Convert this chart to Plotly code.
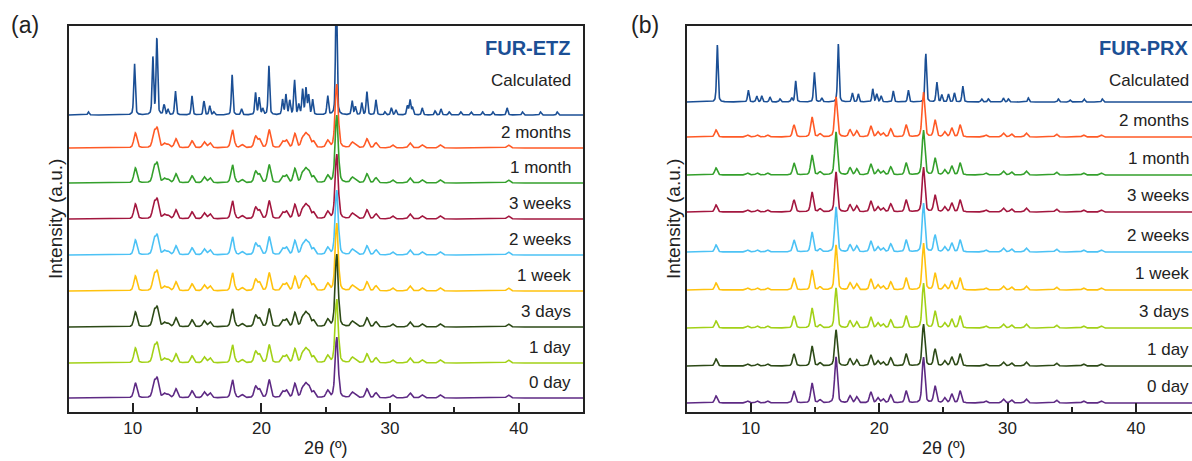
import numpy as np
import plotly.graph_objects as go

# ---------------- data ----------------
LABELS_ETZ = ["Calculated", "2 months", "1 month", "3 weeks", "2 weeks", "1 week", "3 days", "1 day", "0 day"]
LABELS_PRX = ["Calculated", "2 months", "1 month", "3 weeks", "2 weeks", "1 week", "3 days", "1 day", "0 day"]

COLORS_ETZ = ["#1b4f95", "#ff5a26", "#34a02c", "#a3173f", "#4cc2f5", "#ffc20e", "#2d4a17", "#a2d117", "#5e2a84"]
COLORS_PRX = ["#1b4f95", "#ff5a26", "#34a02c", "#a3173f", "#4cc2f5", "#ffc20e", "#a2d117", "#2d4a17", "#5e2a84"]

# vertical offsets of each pattern (a.u.)
OFFSETS_ETZ = [297, 264, 229, 193, 157, 121, 85, 49, 14]
OFFSETS_PRX = [310, 275, 237, 200, 160, 122, 84, 46, 9]

# FUR-ETZ calculated pattern: peak positions (2theta) and intensities
ETZ_CALC_POS = [6.55, 10.13, 11.56, 11.87, 12.43, 12.74, 13.31, 14.6, 15.53, 15.98, 16.3, 17.72, 18.45,
                19.54, 19.82, 20.1, 20.58, 21.64, 21.9, 22.2, 22.57, 22.9, 23.2, 23.46, 23.67, 23.98,
                25.15, 25.82, 27.05, 27.3, 27.8, 28.2, 28.9, 29.6, 30.1, 30.45, 31.35, 31.55, 31.75,
                32.5, 33.5, 33.96, 34.6, 35.5, 36.3, 37.2, 38.0, 39.1, 40.3, 41.7, 43.0]
ETZ_CALC_INT = [3, 52, 57, 76, 10, 5, 24, 19, 14, 9, 3, 40, 6,
                22, 17, 6, 49, 15, 20, 14, 35, 10, 25, 26, 19, 15,
                19, 130, 14, 8, 12, 23, 15, 3, 7, 5, 9, 15, 7,
                7, 4, 6, 3, 3, 3, 3, 3, 7, 3, 3, 3]

# FUR-ETZ experimental patterns (common peaks) + main peak per sample
ETZ_EXP_POS = [10.2, 11.65, 11.9, 12.45, 12.75, 13.35, 14.6, 15.55, 16.0, 17.75, 18.5, 19.55, 19.85,
               20.6, 21.65, 21.95, 22.6, 23.2, 23.45, 23.7, 24.05, 25.15, 27.05, 27.3, 28.2, 28.9,
               30.2, 31.55, 32.5, 33.9, 39.2]
ETZ_EXP_INT = [15, 15, 18, 4, 3, 9, 7, 6, 5, 18, 3, 11, 8,
               18, 6, 7, 14, 9, 12, 10, 6, 7, 5, 3, 9, 5,
               3, 5, 3, 3, 3]
ETZ_MAIN_POS = 25.85
ETZ_MAIN_INT = [64, 68, 65, 65, 68, 73, 64, 61]  # 2 months ... 0 day

# FUR-PRX calculated pattern
PRX_CALC_POS = [7.4, 9.81, 10.47, 10.86, 11.5, 12.28, 13.19, 13.5, 14.95, 15.53, 16.82, 17.91, 18.38,
                19.5, 19.81, 20.15, 21.1, 22.27, 23.63, 24.49, 24.88, 25.39, 25.86, 26.51, 27.99,
                28.5, 29.67, 30.06, 31.62, 33.96, 34.87, 35.96, 37.38]
PRX_CALC_INT = [57, 12, 6, 6, 5, 3, 4, 21, 30, 4, 58, 9, 8,
                13, 8, 6, 11, 12, 49, 20, 7, 8, 9, 16, 3,
                3, 4, 3, 4, 3, 2, 3, 3]

# FUR-PRX experimental patterns
PRX_EXP_POS = [7.3, 9.75, 10.5, 11.3, 13.37, 14.77, 15.4, 17.73, 18.25, 19.35, 19.9, 20.3, 20.9,
               22.1, 24.35, 25.1, 25.65, 26.3, 28.3, 29.67, 30.3, 31.45, 33.8, 35.9, 37.3]
PRX_EXP_INT = [7, 2, 2, 2, 12, 20, 3, 7, 6, 11, 5, 4, 8,
               12, 17, 5, 9, 12, 2, 4, 3, 4, 3, 2, 2]
PRX_MAIN_POS = [16.64, 23.45]
PRX_MAIN_INT = [[40, 45], [43, 45], [40, 45], [45, 49], [45, 47], [40, 45], [36, 42], [46, 46]]

X_TICKS = [10, 20, 30, 40]

# ---------------- helpers ----------------
TWO_THETA = np.arange(5.0, 45.0001, 0.02)


def pattern(pos, inten, hw):
    y = np.zeros_like(TWO_THETA)
    for p, h in zip(pos, inten):
        d = (TWO_THETA - p) / hw
        y += h * (0.4 / (1 + d * d) + 0.6 * np.exp(-np.log(2) * d * d))
    return y


fig = go.Figure()

# left panel
for i, (lab, col, off) in enumerate(zip(LABELS_ETZ, COLORS_ETZ, OFFSETS_ETZ)):
    if i == 0:
        y = pattern(ETZ_CALC_POS, ETZ_CALC_INT, 0.07)
    else:
        y = pattern(ETZ_EXP_POS + [ETZ_MAIN_POS], ETZ_EXP_INT + [ETZ_MAIN_INT[i - 1]], 0.14)
    fig.add_trace(go.Scatter(x=TWO_THETA, y=y + off, mode="lines", line=dict(color=col, width=1.6),
                             xaxis="x", yaxis="y", showlegend=False, name=lab))

# right panel
for i, (lab, col, off) in enumerate(zip(LABELS_PRX, COLORS_PRX, OFFSETS_PRX)):
    if i == 0:
        y = pattern(PRX_CALC_POS, PRX_CALC_INT, 0.07)
    else:
        y = pattern(PRX_EXP_POS + PRX_MAIN_POS, PRX_EXP_INT + PRX_MAIN_INT[i - 1], 0.12)
    fig.add_trace(go.Scatter(x=TWO_THETA, y=y + off, mode="lines", line=dict(color=col, width=1.6),
                             xaxis="x2", yaxis="y2", showlegend=False, name=lab))

W, H = 1192, 461
y_dom = [1 - 412 / H, 1 - 26 / H]
FONT = "Arial, Liberation Sans, sans-serif"

xcommon = dict(tickvals=X_TICKS, ticks="inside", ticklen=9, tickwidth=1.5, tickcolor="#222",
               showline=True, linecolor="#222", linewidth=2, showgrid=False, zeroline=False,
               tickfont=dict(family=FONT, size=17, color="#222"),
               minor=dict(tickvals=[15, 25, 35], ticks="inside", ticklen=5, tickwidth=1.5, tickcolor="#222"))
ycommon = dict(showticklabels=False, ticks="", showline=True, linecolor="#222", linewidth=2,
               showgrid=False, zeroline=False, range=[0, 386], domain=y_dom)

fig.update_layout(
    width=W, height=H, margin=dict(l=0, r=0, t=0, b=0),
    paper_bgcolor="white", plot_bgcolor="white",
    xaxis=dict(domain=[68.5 / W, 583 / W], range=[5, 45], mirror=True, anchor="y", **xcommon),
    yaxis=dict(anchor="x", mirror=True, **ycommon),
    xaxis2=dict(domain=[686.5 / W, 1.0], range=[5, 44.36], mirror=True, anchor="y2", **xcommon),
    yaxis2=dict(anchor="x2", mirror=False, **ycommon),
)

ann = []
# panel letters
ann.append(dict(text="(a)", x=25 / W, y=1 - 25 / H, xref="paper", yref="paper", showarrow=False,
                font=dict(family=FONT, size=23, color="#222"), xanchor="center", yanchor="middle"))
ann.append(dict(text="(b)", x=645 / W, y=1 - 25 / H, xref="paper", yref="paper", showarrow=False,
                font=dict(family=FONT, size=23, color="#222"), xanchor="center", yanchor="middle"))
# axis titles
for xc in [326 / W, 944 / W]:
    ann.append(dict(text="2θ (º)", x=xc, y=1 - 448 / H, xref="paper", yref="paper", showarrow=False,
                    font=dict(family=FONT, size=18, color="#222"), xanchor="center", yanchor="middle"))
for xc in [55 / W, 673 / W]:
    ann.append(dict(text="Intensity (a.u.)", x=xc, y=1 - 219 / H, xref="paper", yref="paper",
                    showarrow=False, textangle=-90,
                    font=dict(family=FONT, size=19, color="#222"), xanchor="center", yanchor="middle"))
# titles
for xr, yr, t in [("x", "y", "FUR-ETZ"), ("x2", "y2", "FUR-PRX")]:
    ann.append(dict(text="<b>%s</b>" % t, x=44.25, y=412 - 48, xref=xr, yref=yr, showarrow=False,
                    font=dict(family=FONT, size=20, color="#1b4f95"), xanchor="right", yanchor="middle"))
# pattern labels
for xr, yr, labs, offs, gcal, g in [("x", "y", LABELS_ETZ, OFFSETS_ETZ, 35, 16),
                                    ("x2", "y2", LABELS_PRX, OFFSETS_PRX, 22, 17)]:
    for i, (lab, off) in enumerate(zip(labs, offs)):
        gap = gcal if i == 0 else g
        ann.append(dict(text=lab, x=44.25, y=off + gap, xref=xr, yref=yr, showarrow=False,
                        font=dict(family=FONT, size=17, color="#222"), xanchor="right", yanchor="middle"))
fig.update_layout(annotations=ann)

fig.write_html("out.html")
